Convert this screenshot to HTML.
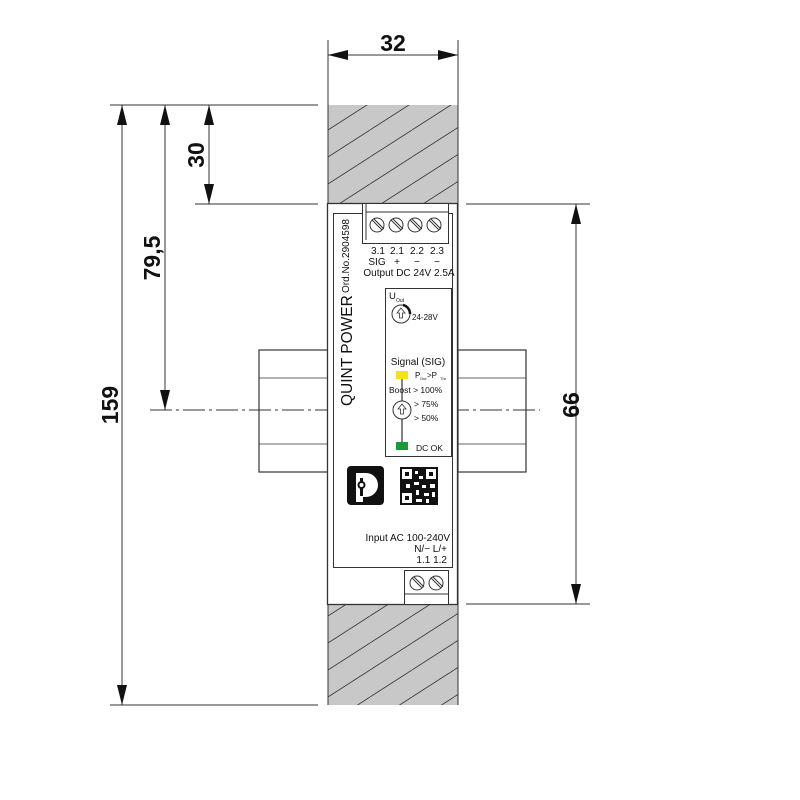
<!DOCTYPE html>
<html><head><meta charset="utf-8"><style>
html,body{margin:0;padding:0;background:#fff}
svg{display:block}
text{font-family:"Liberation Sans",sans-serif;fill:#111}
</style></head><body>
<svg width="800" height="800" viewBox="0 0 800 800" xmlns="http://www.w3.org/2000/svg">
<defs>
<pattern id="h" patternUnits="userSpaceOnUse" width="42" height="27" patternTransform="translate(328,130)">
<rect width="42" height="27" fill="#c8c8c8"/>
<line x1="0" y1="27" x2="42" y2="0" stroke="#333" stroke-width="0.8"/>
<line x1="-42" y1="27" x2="0" y2="0" stroke="#333" stroke-width="0.8"/>
<line x1="42" y1="27" x2="84" y2="0" stroke="#333" stroke-width="0.8"/>
</pattern>
</defs>
<rect x="328" y="105" width="130" height="600" fill="url(#h)"/>
<line x1="328" y1="40" x2="328" y2="705" stroke="#333" stroke-width="1"/>
<line x1="458" y1="40" x2="458" y2="705" stroke="#333" stroke-width="1"/>
<g fill="#fff" stroke="#333" stroke-width="1.2">
<rect x="259" y="350" width="69" height="122"/>
<rect x="458" y="350" width="68" height="122"/>
</g>
<g stroke="#333" stroke-width="0.8">
<line x1="259" y1="378" x2="328" y2="378"/><line x1="259" y1="444" x2="328" y2="444"/>
<line x1="458" y1="378" x2="526" y2="378"/><line x1="458" y1="444" x2="526" y2="444"/>
</g>
<line x1="150" y1="410" x2="540" y2="410" stroke="#333" stroke-width="0.9" stroke-dasharray="22,4,3,4"/>
<rect x="327.5" y="203.5" width="130" height="401" fill="#fff" stroke="#333" stroke-width="1.3"/>
<rect x="333.5" y="213.5" width="119" height="354" fill="#fff" stroke="#333" stroke-width="1"/>
<rect x="362.5" y="203.5" width="86" height="40" fill="#fff" stroke="#333" stroke-width="1"/>
<line x1="366" y1="212" x2="448" y2="212" stroke="#333"/>
<line x1="366" y1="203" x2="366" y2="240" stroke="#333"/>
<g fill="#fff" stroke="#333" stroke-width="1">
<circle cx="377" cy="225" r="7"/><circle cx="396" cy="225" r="7"/><circle cx="415" cy="225" r="7"/><circle cx="434" cy="225" r="7"/>
</g>
<g stroke="#333" stroke-width="1">
<line x1="372" y1="220" x2="382" y2="230"/><line x1="374" y1="219" x2="384" y2="229"/>
<line x1="391" y1="220" x2="401" y2="230"/><line x1="393" y1="219" x2="403" y2="229"/>
<line x1="410" y1="220" x2="420" y2="230"/><line x1="412" y1="219" x2="422" y2="229"/>
<line x1="429" y1="220" x2="439" y2="230"/><line x1="431" y1="219" x2="441" y2="229"/>
</g>
<g font-size="10" text-anchor="middle">
<text x="378" y="254">3.1</text><text x="397" y="254">2.1</text><text x="417" y="254">2.2</text><text x="437" y="254">2.3</text>
<text x="377" y="265">SIG</text><text x="397" y="265">+</text><text x="417" y="265">−</text><text x="437" y="265">−</text>
<text x="409" y="276">Output DC 24V 2.5A</text>
</g>
<text transform="translate(352,406) rotate(-90)" font-size="15.5">QUINT POWER</text>
<text transform="translate(349,293) rotate(-90)" font-size="10">Ord.No.2904598</text>
<rect x="385.5" y="288.5" width="66" height="168" fill="#fff" stroke="#333" stroke-width="1"/>
<text x="389" y="299" font-size="9.5">U</text><text x="396" y="302" font-size="5">Out</text>
<circle cx="401" cy="314" r="9" fill="#fff" stroke="#333"/>
<path d="M401,308 l-4,5 h2.5 v5 h3 v-5 h2.5z" fill="none" stroke="#333" stroke-width="0.8"/>
<path d="M403,305 A9,9 0 0 1 410,314" fill="none" stroke="#111" stroke-width="2.5"/>
<text x="412" y="320" font-size="8">24-28V</text>
<text x="418" y="365" font-size="10" text-anchor="middle">Signal (SIG)</text>
<rect x="396" y="371" width="12" height="8" fill="#f5e31a"/>
<text x="415" y="378" font-size="8">P</text><text x="420" y="380" font-size="4">Out</text><text x="427" y="378" font-size="8">&gt;P</text><text x="440" y="380" font-size="4">Thr</text>
<line x1="402" y1="379" x2="402" y2="442" stroke="#333" stroke-width="1.2"/>
<text x="389" y="393" font-size="8.5">Boost &gt; 100%</text>
<circle cx="402" cy="410" r="9" fill="#fff" stroke="#333"/>
<path d="M402,404 l-4,5 h2.5 v5 h3 v-5 h2.5z" fill="none" stroke="#333" stroke-width="0.8"/>
<text x="414" y="407" font-size="8.5">&gt; 75%</text>
<text x="414" y="421" font-size="8.5">&gt; 50%</text>
<rect x="396" y="442" width="12" height="8" fill="#1a9b3a"/>
<text x="416" y="451" font-size="8.5">DC OK</text>
<rect x="347" y="466" width="37" height="39" rx="4" fill="#111"/>
<path d="M356,473 h10 a12,12 0 0 1 0,24 h-3 v5 h-7z" fill="#fff"/>
<rect x="360" y="478" width="3" height="18" fill="#111"/>
<circle cx="361.5" cy="485" r="3" fill="#fff" stroke="#111" stroke-width="2"/>
<rect x="400" y="467" width="38" height="38" fill="#111"/>
<g fill="#fff">
<rect x="402" y="469" width="10" height="10"/><rect x="426" y="469" width="10" height="10"/><rect x="402" y="493" width="10" height="10"/>
<rect x="415" y="471" width="3" height="3"/><rect x="419" y="476" width="4" height="3"/><rect x="414" y="482" width="5" height="3"/>
<rect x="406" y="484" width="4" height="4"/><rect x="422" y="485" width="4" height="3"/><rect x="430" y="484" width="5" height="4"/>
<rect x="416" y="490" width="3" height="5"/><rect x="424" y="493" width="5" height="3"/><rect x="432" y="492" width="3" height="5"/>
<rect x="416" y="499" width="6" height="3"/><rect x="426" y="499" width="3" height="4"/>
</g>
<g fill="#111"><rect x="405" y="472" width="4" height="4"/><rect x="429" y="472" width="4" height="4"/><rect x="405" y="496" width="4" height="4"/></g>
<g font-size="10" text-anchor="end">
<text x="450" y="541">Input AC 100-240V</text>
<text x="447" y="552">N/− L/+</text>
<text x="447" y="563">1.1  1.2</text>
</g>
<rect x="404.5" y="570.5" width="44" height="34" fill="#fff" stroke="#333"/>
<line x1="405" y1="594" x2="448" y2="594" stroke="#333"/>
<g fill="#fff" stroke="#333"><circle cx="417" cy="583" r="7"/><circle cx="436" cy="583" r="7"/></g>
<g stroke="#333"><line x1="412" y1="578" x2="422" y2="588"/><line x1="414" y1="577" x2="424" y2="587"/><line x1="431" y1="578" x2="441" y2="588"/><line x1="433" y1="577" x2="443" y2="587"/></g>
<g stroke="#333" stroke-width="1">
<line x1="110" y1="105" x2="318" y2="105"/>
<line x1="195" y1="204" x2="318" y2="204"/>
<line x1="110" y1="705" x2="318" y2="705"/>
<line x1="122" y1="105" x2="122" y2="705"/>
<line x1="165" y1="105" x2="165" y2="410"/>
<line x1="209" y1="105" x2="209" y2="204"/>
<line x1="328" y1="55" x2="458" y2="55"/>
<line x1="466" y1="204" x2="590" y2="204"/>
<line x1="466" y1="604" x2="590" y2="604"/>
<line x1="576" y1="204" x2="576" y2="604"/>
</g>
<g fill="#111">
<path d="M122,105 l-5,20 h10z"/><path d="M122,705 l-5,-20 h10z"/>
<path d="M165,105 l-5,20 h10z"/><path d="M165,410 l-5,-20 h10z"/>
<path d="M209,105 l-5,20 h10z"/><path d="M209,204 l-5,-20 h10z"/>
<path d="M328,55 l20,-5 v10z"/><path d="M458,55 l-20,-5 v10z"/>
<path d="M576,204 l-5,20 h10z"/><path d="M576,604 l-5,-20 h10z"/>
</g>
<g font-size="23" font-weight="bold" text-anchor="middle">
<text x="393" y="51">32</text>
<text transform="translate(118,405) rotate(-90)">159</text>
<text transform="translate(160,258) rotate(-90)">79,5</text>
<text transform="translate(204,155) rotate(-90)">30</text>
<text transform="translate(563,405) rotate(90)">99</text>
</g>
</svg>
</body></html>
